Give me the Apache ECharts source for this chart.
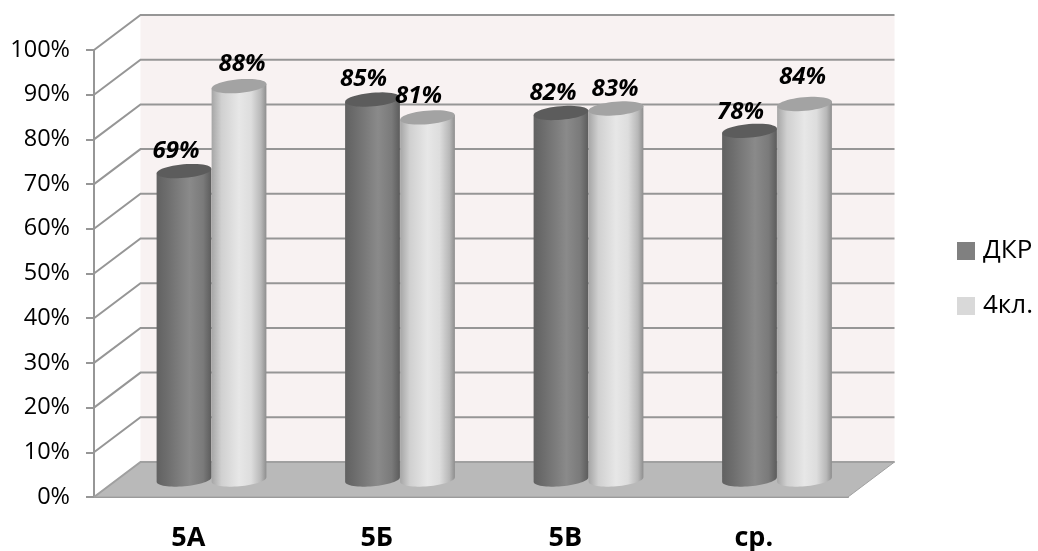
<!DOCTYPE html>
<html><head><meta charset="utf-8">
<style>html,body{margin:0;padding:0;background:#fff}#c{width:1038px;height:551px}</style>
<script src="https://cdn.jsdelivr.net/npm/echarts@6/dist/echarts.min.js"></script>
</head><body><div id="c"></div>
<script>
const categories = ['5А', '5Б', '5В', 'ср.'];
const yTicks = [0, 10, 20, 30, 40, 50, 60, 70, 80, 90, 100];
const dkrValues = [69, 85, 82, 78];
const grade4Values = [88, 81, 83, 84];

// Styling / layout constants (pseudo-3D projection)
const DEPTH_X = 46.5, DEPTH_Y = -35;
const BAR_RX = 27.5, BAR_RY = 6.8, TILT = -5 * Math.PI / 180;
const FONT = '"Open Sans", "Noto Sans", sans-serif';
const dkrNudge = [[-8, -20], [-9, -20], [-8, -20], [-9, -19]];
const g4Nudge = [[3, -22], [-9, -21], [-1, -19], [-2, -27]];

const chart = echarts.init(document.getElementById('c'));

function ellipsePts(cx, cy, a0, a1, n) {
  const pts = [];
  for (let i = 0; i <= n; i++) {
    const a = a0 + (a1 - a0) * i / n;
    const x = BAR_RX * Math.cos(a), y = BAR_RY * Math.sin(a);
    pts.push([cx + x * Math.cos(TILT) - y * Math.sin(TILT), cy + x * Math.sin(TILT) + y * Math.cos(TILT)]);
  }
  return pts;
}

function grad(stops) {
  return new echarts.graphic.LinearGradient(0, 0, 1, 0, stops.map(s => ({ offset: s[0], color: s[1] })));
}
const darkGrad = [[0, '#616161'], [0.2, '#6e6e6e'], [0.6, '#8a8a8a'], [0.85, '#7a7a7a'], [1, '#5c5c5c']];
const lightGrad = [[0, '#a6a6a6'], [0.18, '#d0d0d0'], [0.5, '#e7e7e7'], [0.72, '#dddddd'], [0.9, '#b8b8b8'], [1, '#8e8e8e']];

function barSeries(name, values, side, stops, topColor, legendColor, nudge) {
  return {
    name, type: 'custom', z: 5, clip: false,
    itemStyle: { color: legendColor },
    data: values.map((v, i) => [i, v]),
    renderItem(params, api) {
      const top = api.coord([api.value(0), api.value(1)]);
      const base = api.coord([api.value(0), 0]);
      const cx = top[0] + DEPTH_X / 2 + side * BAR_RX;
      const yTop = top[1] + DEPTH_Y / 2, yBase = base[1] + DEPTH_Y / 2;
      const topArc = ellipsePts(cx, yTop, Math.PI, 0, 1);
      const botArc = ellipsePts(cx, yBase, 0, Math.PI, 32);
      const n = nudge[params.dataIndex];
      return {
        type: 'group',
        children: [
          { type: 'polygon', shape: { points: topArc.concat(botArc) }, style: { fill: grad(stops) } },
          { type: 'polygon', shape: { points: ellipsePts(cx, yTop, 0, Math.PI * 2, 48) }, style: { fill: topColor } },
          { type: 'text', z2: 50, style: {
              x: cx + n[0], y: yTop + n[1], text: api.value(1) + '%', align: 'center', verticalAlign: 'middle',
              font: 'italic bold 24px ' + FONT, fill: '#000' } }
        ]
      };
    }
  };
}

chart.setOption({
  animation: false,
  textStyle: { fontFamily: FONT },
  legend: {
    orient: 'vertical', left: 952, top: 233, icon: 'rect', itemWidth: 18, itemHeight: 18, itemGap: 29,
    selectedMode: false,
    textStyle: { fontSize: 26, color: '#000', fontFamily: FONT, padding: [0, 0, 0, 3] },
    data: ['ДКР', '4кл.']
  },
  grid: { left: 94, right: 190, top: 50, bottom: 54, outerBoundsMode: 'none' },
  xAxis: {
    type: 'category', data: categories,
    axisLine: { lineStyle: { color: '#969696', width: 2 } },
    axisTick: { length: 10, alignWithLabel: false, lineStyle: { color: '#969696', width: 2 } },
    axisLabel: { fontSize: 27, fontWeight: 'bold', color: '#000', margin: 28, fontFamily: FONT }
  },
  yAxis: {
    type: 'value', min: 0, max: 100, interval: 10,
    axisLine: { show: true, lineStyle: { color: '#969696', width: 2 } },
    axisTick: { show: true, length: 8, lineStyle: { color: '#969696', width: 2 } },
    splitLine: { show: false },
    axisLabel: { formatter: '{value}%', fontSize: 23.5, color: '#000', margin: 24, fontFamily: FONT }
  },
  series: [
    { // back wall and floor
      type: 'custom', z: 1, silent: true, clip: false, data: [0],
      renderItem(params) {
        const g = params.coordSys;
        const l = g.x, r = g.x + g.width, t = g.y, b = g.y + g.height;
        return { type: 'group', children: [
          { type: 'rect', shape: { x: l + DEPTH_X, y: t + DEPTH_Y, width: g.width, height: g.height }, style: { fill: '#f8f2f2' } },
          { type: 'polygon', shape: { points: [[l, b], [r, b], [r + DEPTH_X, b + DEPTH_Y], [l + DEPTH_X, b + DEPTH_Y]] },
            style: { fill: '#b9b9b9', stroke: '#a0a0a0', lineWidth: 1 } }
        ] };
      }
    },
    { // grid lines along side and back wall
      type: 'custom', z: 2, silent: true, clip: false, data: yTicks.map(v => [0, v]),
      renderItem(params, api) {
        const g = params.coordSys;
        const y = api.coord([0, api.value(1)])[1];
        const l = g.x, r = g.x + g.width;
        return { type: 'polyline',
          shape: { points: [[l, y], [l + DEPTH_X, y + DEPTH_Y], [r + DEPTH_X, y + DEPTH_Y]] },
          style: { fill: null, stroke: api.value(1) === 0 ? '#a0a0a0' : '#969696', lineWidth: 2 } };
      }
    },
    barSeries('ДКР', dkrValues, -1, darkGrad, '#5c5c5c', '#808080', dkrNudge),
    barSeries('4кл.', grade4Values, 1, lightGrad, '#a3a3a3', '#d9d9d9', g4Nudge)
  ]
});
</script></body></html>
